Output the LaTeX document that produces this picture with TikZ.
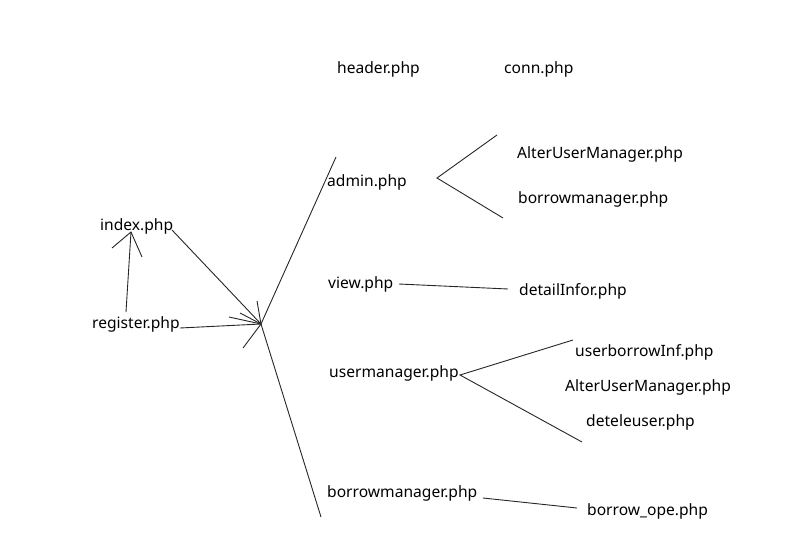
\documentclass[tikz,border=0pt]{standalone}
\usepackage{fontspec}
\setmainfont{Noto Sans}
\begin{document}
\begin{tikzpicture}[x=1pt,y=-1pt,
  lbl/.style={anchor=base west,inner sep=0pt,font=\fontsize{15.6}{18}\selectfont},
  ln/.style={draw=black!85,line width=0.9pt}]
\useasboundingbox (0,0) rectangle (808,546);
% labels
\node[lbl] (header) at (337,73) {header.php};
\node[lbl] (conn) at (504,73) {conn.php};
\node[lbl] (index) at (100,230) {index.php};
\node[lbl] (register) at (92,328) {register.php};
\node[lbl] (admin) at (327,186) {admin.php};
\node[lbl] (view) at (328,288) {view.php};
\node[lbl] (userman) at (329,377) {usermanager.php};
\node[lbl] (borrowman) at (327,497) {borrowmanager.php};
\node[lbl] (alter1) at (517,158) {AlterUserManager.php};
\node[lbl] (borrow1) at (518,203) {borrowmanager.php};
\node[lbl] (detail) at (519,295) {detailInfor.php};
\node[lbl] (ubi) at (575,356) {userborrowInf.php};
\node[lbl] (alter2) at (565,391.5) {AlterUserManager.php};
\node[lbl] (dele) at (586,426.5) {deteleuser.php};
\node[lbl] (bope) at (587,515) {borrow\_ope.php};
% coordinates
\coordinate (hub) at (261,324);
\coordinate (regtop) at (126,312);
\coordinate (idxtip) at (131,232);
\coordinate (ib1) at (112,248);
\coordinate (ib2) at (142,257);
\coordinate (idxr) at (172,230);
\coordinate (regr) at (180,328);
\coordinate (hb1) at (257,301);
\coordinate (hb2) at (240,313);
\coordinate (hb3) at (229,317);
\coordinate (hb4) at (243,348);
\coordinate (uptop) at (336,157);
\coordinate (downend) at (321,517);
\coordinate (af) at (437,178);
\coordinate (afu) at (497,135);
\coordinate (afd) at (503,218);
\coordinate (vl) at (399,284);
\coordinate (vr) at (508,289);
\coordinate (uf) at (460,375);
\coordinate (ufu) at (573,340);
\coordinate (ufd) at (582,442);
\coordinate (bl) at (483,498);
\coordinate (br) at (577,508);
% connectors
\draw[ln] (regtop) -- (idxtip);
\draw[ln] (ib1) -- (idxtip) -- (ib2);
\draw[ln] (idxr) -- (hub);
\draw[ln] (regr) -- (hub);
\draw[ln] (hb1) -- (hub);
\draw[ln] (hb2) -- (hub);
\draw[ln] (hb3) -- (hub);
\draw[ln] (hb4) -- (hub);
\draw[ln] (hub) -- (uptop);
\draw[ln] (hub) -- (downend);
\draw[ln] (afu) -- (af) -- (afd);
\draw[ln] (vl) -- (vr);
\draw[ln] (ufu) -- (uf) -- (ufd);
\draw[ln] (bl) -- (br);
\end{tikzpicture}
\end{document}
